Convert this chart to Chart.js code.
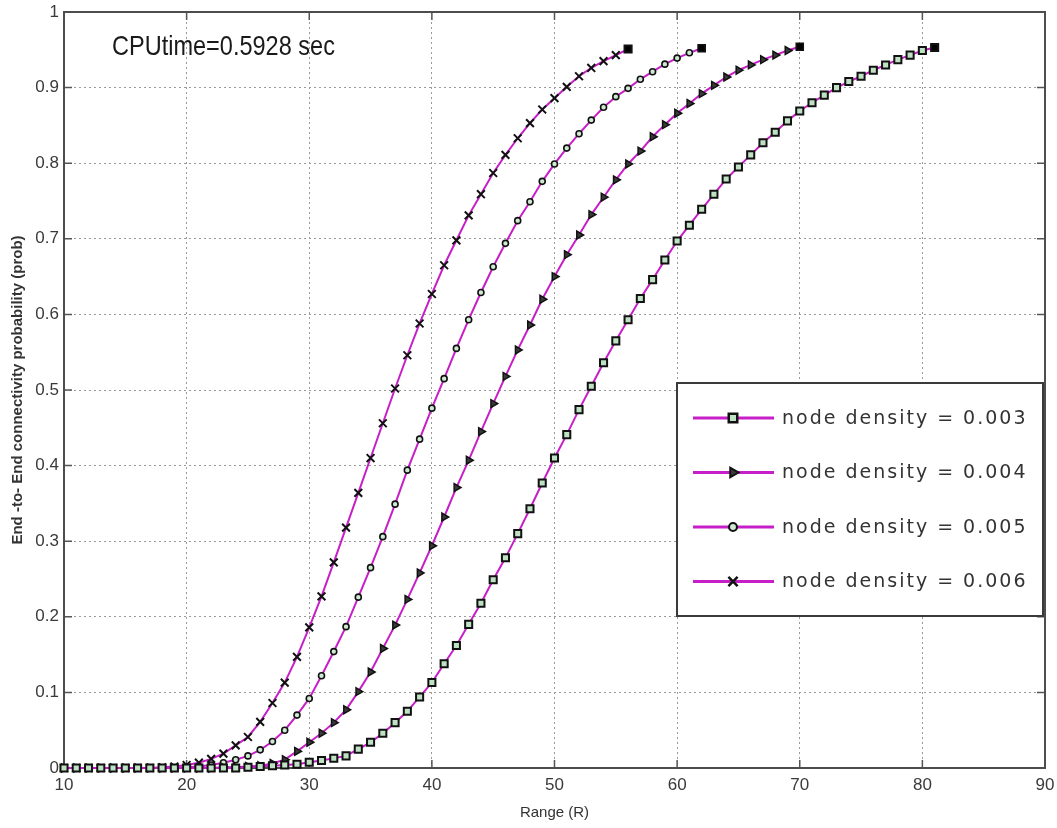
<!DOCTYPE html>
<html>
<head>
<meta charset="utf-8">
<script src="https://cdn.jsdelivr.net/npm/chart.js@4.4.1/dist/chart.umd.min.js"></script>
<style>
  html, body { margin: 0; padding: 0; background: #fff; }
  #wrap { width: 1057px; height: 828px; position: relative; }
</style>
</head>
<body>
<div id="wrap"><canvas id="chart"></canvas></div>
<script>
// End-to-end connectivity probability vs. range, one curve per node density.
// Values, one sample per integer range value.
const rangeR = [10, 11, 12, 13, 14, 15, 16, 17, 18, 19, 20, 21, 22, 23, 24, 25, 26, 27, 28, 29,
  30, 31, 32, 33, 34, 35, 36, 37, 38, 39, 40, 41, 42, 43, 44, 45, 46, 47, 48, 49,
  50, 51, 52, 53, 54, 55, 56, 57, 58, 59, 60, 61, 62, 63, 64, 65, 66, 67, 68, 69,
  70, 71, 72, 73, 74, 75, 76, 77, 78, 79, 80, 81];

const densityLabels = ["node density = 0.003", "node density = 0.004", "node density = 0.005", "node density = 0.006"];

const prob003 = [0, 0, 0, 0, 0, 0, 0, 0, 0, 0, 0, 0, 0, 0, 0,
  0.001, 0.002, 0.003, 0.004, 0.005, 0.0075, 0.010, 0.013, 0.016, 0.025, 0.034, 0.046, 0.060, 0.075, 0.094,
  0.113, 0.138, 0.162, 0.190, 0.218, 0.249, 0.278, 0.310, 0.343, 0.377, 0.410, 0.441, 0.474, 0.505, 0.536,
  0.565, 0.593, 0.621, 0.646, 0.672, 0.697, 0.718, 0.739, 0.759, 0.779, 0.795, 0.811, 0.827, 0.841, 0.856,
  0.869, 0.880, 0.890, 0.900, 0.908, 0.915, 0.923, 0.930, 0.937, 0.943, 0.949, 0.953];

const prob004 = [0, 0, 0, 0, 0, 0, 0, 0, 0, 0, 0, 0, 0,
  0.001, 0.001, 0.002, 0.003, 0.006, 0.011, 0.022, 0.034, 0.046, 0.060, 0.077, 0.101, 0.127, 0.158, 0.189,
  0.223, 0.258, 0.294, 0.332, 0.371, 0.407, 0.445, 0.482, 0.518, 0.553, 0.586, 0.620, 0.650, 0.679, 0.705,
  0.732, 0.755, 0.778, 0.799, 0.816, 0.835, 0.851, 0.866, 0.879, 0.892, 0.903, 0.914, 0.923, 0.930, 0.937,
  0.943, 0.949, 0.954];

const prob005 = [0, 0, 0, 0, 0, 0, 0, 0, 0, 0,
  0.001, 0.002, 0.004, 0.007, 0.011, 0.016, 0.024, 0.035, 0.050, 0.070, 0.092, 0.122, 0.154, 0.187, 0.226,
  0.265, 0.306, 0.349, 0.394, 0.435, 0.476, 0.515, 0.555, 0.593, 0.629, 0.663, 0.694, 0.724, 0.749, 0.776,
  0.799, 0.820, 0.839, 0.857, 0.874, 0.888, 0.899, 0.911, 0.921, 0.931, 0.939, 0.946, 0.952];

const prob006 = [0, 0, 0, 0, 0, 0, 0, 0,
  0.001, 0.002, 0.004, 0.007, 0.012, 0.019, 0.030, 0.041, 0.061, 0.086, 0.113, 0.147, 0.186, 0.227, 0.272,
  0.318, 0.364, 0.410, 0.456, 0.502, 0.546, 0.588, 0.627, 0.665, 0.698, 0.731, 0.759, 0.787, 0.811, 0.833,
  0.853, 0.871, 0.886, 0.901, 0.915, 0.926, 0.935, 0.943, 0.951];

const cpuTimeText = "CPUtime=0.5928 sec";
const xAxisTitle = "Range (R)";
const yAxisTitle = "End -to- End connectivity probability (prob)";

const LINE = "#c71fc7";
const INK = "#111";
const SANS = "'Liberation Sans', Arial, sans-serif";

const toPoints = (values) => values.map((v, i) => ({ x: rangeR[i], y: v }));

// marker look per series (square, right triangle, circle, x)
const markers = [
  { pointStyle: "rect", rotation: 0, radius: 5, borderWidth: 2, fill: "#bfe2c5" },
  { pointStyle: "triangle", rotation: 90, radius: 4.5, borderWidth: 1.5, fill: "#3a3a3a" },
  { pointStyle: "circle", rotation: 0, radius: 3, borderWidth: 1.6, fill: "#cfe9d2" },
  { pointStyle: "crossRot", rotation: 0, radius: 5.5, borderWidth: 2, fill: INK },
];

function makeDataset(label, values, m) {
  const last = values.length - 1;
  return {
    label,
    data: toPoints(values),
    borderColor: LINE,
    borderWidth: 2,
    tension: 0,
    clip: false,
    pointStyle: (c) => (c.dataIndex === last ? "rect" : m.pointStyle),
    pointRotation: (c) => (c.dataIndex === last ? 0 : m.rotation),
    pointRadius: (c) => (c.dataIndex === last ? 5 : m.radius),
    pointBorderWidth: m.borderWidth,
    pointBorderColor: INK,
    pointBackgroundColor: (c) => (c.dataIndex === last ? "#000" : m.fill),
    pointHoverRadius: m.radius,
  };
}

// axes box with matlab-style inward ticks, the cpu note and the boxed legend
const frame = {
  id: "frame",
  beforeDatasetsDraw(chart) {
    const { ctx, chartArea: a, scales } = chart;
    ctx.save();
    ctx.strokeStyle = "#555";
    ctx.lineWidth = 1.5;
    ctx.beginPath();
    scales.x.ticks.forEach((t) => {
      const px = scales.x.getPixelForValue(t.value);
      ctx.moveTo(px, a.bottom); ctx.lineTo(px, a.bottom - 8);
      ctx.moveTo(px, a.top); ctx.lineTo(px, a.top + 8);
    });
    scales.y.ticks.forEach((t) => {
      const py = scales.y.getPixelForValue(t.value);
      ctx.moveTo(a.left, py); ctx.lineTo(a.left + 8, py);
      ctx.moveTo(a.right, py); ctx.lineTo(a.right - 8, py);
    });
    ctx.stroke();
    ctx.lineWidth = 2;
    ctx.strokeStyle = "#4d4d4d";
    ctx.strokeRect(a.left, a.top, a.right - a.left, a.bottom - a.top);
    ctx.restore();
  },
  afterDraw(chart) {
    const { ctx, chartArea: a } = chart;
    ctx.save();
    // cpu time annotation, squeezed like the original's narrow font
    ctx.fillStyle = "#1a1a1a";
    ctx.font = `28px ${SANS}`;
    ctx.textBaseline = "middle";
    ctx.translate(a.left + 48, a.top + 35);
    ctx.scale(0.84, 1);
    ctx.fillText(cpuTimeText, 0, 0);
    ctx.setTransform(1, 0, 0, 1, 0, 0);

    // legend box
    const bx = 677, by = 383, bw = 366, bh = 233;
    ctx.fillStyle = "#fff";
    ctx.fillRect(bx, by, bw, bh);
    ctx.strokeStyle = "#3a3a3a";
    ctx.lineWidth = 2;
    ctx.strokeRect(bx, by, bw, bh);
    chart.data.datasets.forEach((ds, i) => {
      const y = by + 35 + i * 54.5;
      const m = markers[i];
      ctx.strokeStyle = LINE;
      ctx.lineWidth = 3;
      ctx.beginPath();
      ctx.moveTo(bx + 16, y);
      ctx.lineTo(bx + 97, y);
      ctx.stroke();
      ctx.strokeStyle = INK;
      ctx.fillStyle = m.fill;
      ctx.lineWidth = m.borderWidth + 0.5;
      Chart.helpers.drawPoint(ctx, { pointStyle: m.pointStyle, rotation: m.rotation, radius: m.radius + 1, borderWidth: m.borderWidth }, bx + 56, y);
      ctx.fillStyle = "#333";
      ctx.font = "19px 'DejaVu Sans', sans-serif";
      ctx.letterSpacing = "2px";
      ctx.textBaseline = "middle";
      ctx.fillText(ds.label, bx + 105, y + 1);
      ctx.letterSpacing = "0px";
    });
    ctx.restore();
  },
};

new Chart(document.getElementById("chart"), {
  type: "line",
  data: {
    datasets: [
      makeDataset(densityLabels[0], prob003, markers[0]),
      makeDataset(densityLabels[1], prob004, markers[1]),
      makeDataset(densityLabels[2], prob005, markers[2]),
      makeDataset(densityLabels[3], prob006, markers[3]),
    ],
  },
  options: {
    responsive: true,
    maintainAspectRatio: false,
    animation: false,
    layout: { padding: { top: 12, right: 12, left: 0, bottom: 0 } },
    plugins: { legend: { display: false }, tooltip: { enabled: false } },
    scales: {
      x: {
        type: "linear",
        min: 10,
        max: 90,
        afterFit: (s) => { s.height = 60; s.paddingLeft = 0; s.paddingRight = 0; },
        ticks: { stepSize: 10, color: "#3a3a3a", padding: 7, font: { family: SANS, size: 17 } },
        grid: { color: "#9a9a9a", lineWidth: 1, drawTicks: false },
        border: { display: false, dash: [2, 3] },
        title: { display: true, text: xAxisTitle, color: "#333", padding: { top: 0, bottom: 6 }, font: { family: SANS, size: 15 } },
      },
      y: {
        min: 0,
        max: 1,
        afterFit: (s) => { s.width = 64; s.paddingTop = 0; s.paddingBottom = 0; },
        ticks: {
          stepSize: 0.1,
          color: "#3a3a3a",
          padding: 5,
          font: { family: SANS, size: 17 },
          callback: (v) => String(Number(v.toFixed(1))),
        },
        grid: { color: "#9a9a9a", lineWidth: 1, drawTicks: false },
        border: { display: false, dash: [2, 3] },
        title: { display: true, text: yAxisTitle, color: "#333", padding: { top: 9, bottom: 0 }, font: { family: SANS, size: 15, weight: "bold" } },
      },
    },
  },
  plugins: [frame],
});
</script>
</body>
</html>
